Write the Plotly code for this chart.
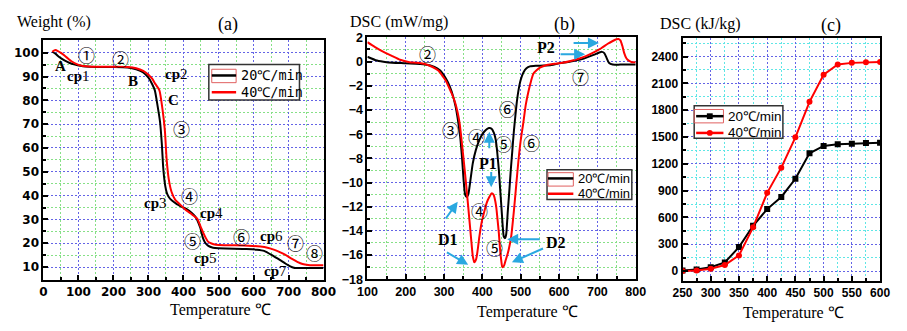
import plotly.graph_objects as go

# ---------------- data ----------------
# (a) TGA, weight %
tga20_x = [25, 35, 45, 60, 75, 90, 105, 120, 150, 200, 240, 265, 285, 300, 310, 318, 326, 333, 338, 342, 346, 350, 354, 360, 368, 380, 395, 410, 423, 432, 438, 443, 448, 455, 462, 470, 480, 490, 520, 580, 610, 630, 655, 675, 692, 705, 715, 720, 760, 800]
tga20_y = [100.4, 99.5, 98.2, 96.8, 95.7, 95.0, 94.5, 94.2, 94.0, 94.0, 93.8, 93.0, 91.7, 89.5, 87.0, 84.3, 77.7, 71, 62, 52, 46, 42.5, 40.5, 39, 37.8, 36.5, 35.3, 34.2, 32.8, 31.5, 30.2, 28.5, 26.5, 22.5, 20.2, 19.0, 18.3, 18.0, 17.8, 17.6, 17.3, 16.8, 14.8, 13.0, 11.4, 10.3, 9.7, 9.6, 9.6, 9.6]
tga40_x = [25, 30, 35, 40, 50, 60, 70, 80, 95, 110, 130, 150, 200, 240, 265, 285, 300, 310, 320, 331, 340, 347, 352, 358, 366, 377, 390, 405, 420, 432, 440, 446, 451, 456, 463, 470, 480, 493, 520, 585, 620, 640, 660, 675, 690, 710, 725, 740, 756, 770, 800]
tga40_y = [100.4, 100.9, 101.1, 100.8, 99.9, 98.8, 97.6, 96.4, 95.2, 94.5, 94.2, 94.1, 94.1, 94.0, 93.5, 92.4, 90.8, 89.2, 86.8, 84.3, 76.3, 67, 55, 46.8, 41.5, 38.1, 36.3, 34.2, 32.6, 31.2, 30.2, 28.1, 26.2, 24.6, 22.4, 20.7, 19.9, 19.4, 19.2, 19.0, 18.6, 18.1, 17.2, 16.3, 15.2, 13.4, 12.2, 11.3, 10.9, 10.8, 10.8]

# (b) DSC, mW/mg
dsc20_x = [100, 125, 150, 200, 250, 275, 290, 300, 310, 320, 330, 336, 342, 347, 351, 355, 359, 363, 368, 375, 383, 392, 400, 409, 417, 424, 430, 435, 439, 443, 446, 450, 453, 456, 459, 462, 466, 470, 474, 478, 482, 486, 490, 494, 500, 507, 515, 524, 540, 560, 580, 600, 630, 660, 690, 705, 712, 718, 724, 730, 740, 760, 800]
dsc20_y = [0.4, 0.08, -0.05, -0.15, -0.25, -0.45, -0.75, -1.15, -1.7, -2.5, -3.7, -4.8, -6.2, -8.0, -9.8, -11.0, -11.2, -11.0, -10.0, -8.4, -7.3, -6.5, -6.0, -5.65, -5.5, -5.55, -5.9, -6.5, -7.6, -9.0, -10.4, -12.2, -13.6, -14.5, -14.6, -14.3, -12.5, -10.8, -9.0, -7.4, -5.8, -4.5, -3.3, -2.4, -1.5, -0.9, -0.55, -0.4, -0.35, -0.33, -0.28, -0.15, 0.0, 0.2, 0.55, 0.75, 0.8, 0.7, 0.3, -0.1, -0.25, -0.25, -0.25]
dsc40_x = [100, 120, 142, 165, 185, 210, 227, 250, 270, 285, 295, 305, 315, 322, 329, 336, 341, 346, 352, 358, 363, 367, 371, 375, 379, 384, 388, 392, 398, 405, 411, 418, 424, 429, 432, 436, 439, 443, 446, 449, 452, 456, 460, 465, 469, 475, 482, 488, 494, 500, 507, 513, 520, 527, 533, 542, 550, 562, 575, 590, 609, 630, 651, 670, 693, 710, 727, 740, 750, 755, 760, 765, 770, 776, 783, 790, 800]
dsc40_y = [1.6, 1.2, 0.8, 0.45, 0.15, -0.05, -0.1, -0.2, -0.45, -0.75, -1.15, -1.6, -2.3, -2.8, -3.4, -4.3, -5.2, -6.6, -8.4, -10.3, -12.0, -13.4, -14.8, -16.1, -16.6, -16.3, -15.5, -14.5, -13.3, -12.4, -11.7, -11.2, -10.9, -11.0, -11.3, -12.0, -12.9, -14.2, -15.5, -16.4, -17.0, -16.9, -16.5, -16.0, -15.5, -14.5, -12.4, -10.3, -8.2, -6.5, -5.0, -3.6, -2.5, -1.6, -1.0, -0.7, -0.5, -0.35, -0.25, -0.18, -0.1, 0.05, 0.23, 0.45, 0.8, 1.1, 1.47, 1.7, 1.85, 1.87, 1.75, 1.3, 0.7, 0.25, 0.05, -0.05, -0.05]

# (c) cumulative DSC, kJ/kg
cum_x = [250, 275, 300, 325, 350, 375, 400, 425, 450, 475, 500, 525, 550, 575, 600]
cum20_y = [7, 18, 43, 96, 268, 507, 693, 829, 1032, 1318, 1400, 1418, 1425, 1432, 1436]
cum40_y = [0, 7, 25, 68, 175, 489, 875, 1157, 1496, 1893, 2196, 2311, 2329, 2336, 2339]

series_names = ["20℃/min", "40℃/min"]

# ---------------- style ----------------
W, H = 907, 331
SERIF = "Liberation Serif"
SANS = "Liberation Sans"
WIDE = "DejaVu Sans"
MONO = "DejaVu Sans Mono"
CIRC = "Noto Sans CJK SC"
BLUE_GRID = "#6464e6"
GREEN_GRID = "#86e086"
CYAN_GRID = "#5fe6e6"
ARROW = "#2aa8e0"


def px(x):
    return x / W


def py(y):
    return 1 - y / H


fig = go.Figure()

fig.add_trace(go.Scatter(x=tga20_x, y=tga20_y, mode="lines", name=series_names[0],
                         line=dict(color="black", width=2, shape="spline", smoothing=0.6),
                         xaxis="x", yaxis="y"))
fig.add_trace(go.Scatter(x=tga40_x, y=tga40_y, mode="lines", name=series_names[1],
                         line=dict(color="red", width=2, shape="spline", smoothing=0.6),
                         xaxis="x", yaxis="y"))
fig.add_trace(go.Scatter(x=dsc20_x, y=dsc20_y, mode="lines", name=series_names[0],
                         line=dict(color="black", width=2, shape="spline", smoothing=0.6),
                         xaxis="x2", yaxis="y2"))
fig.add_trace(go.Scatter(x=dsc40_x, y=dsc40_y, mode="lines", name=series_names[1],
                         line=dict(color="red", width=2, shape="spline", smoothing=0.6),
                         xaxis="x2", yaxis="y2"))
fig.add_trace(go.Scatter(x=cum_x, y=cum20_y, mode="lines+markers", name=series_names[0],
                         line=dict(color="black", width=2),
                         marker=dict(symbol="square", size=6, color="black"),
                         xaxis="x3", yaxis="y3"))
fig.add_trace(go.Scatter(x=cum_x, y=cum40_y, mode="lines+markers", name=series_names[1],
                         line=dict(color="red", width=2),
                         marker=dict(symbol="circle", size=6, color="red"),
                         xaxis="x3", yaxis="y3"))


def axis(domain, rng, dtick, mdtick, tfam, tsize, major_col, minor_col, anchor):
    return dict(
        domain=domain, range=rng, dtick=dtick, tick0=0,
        showline=True, linewidth=2, linecolor="black", mirror=True,
        ticks="inside", ticklen=5, tickwidth=1.5, tickcolor="black",
        showgrid=True, gridcolor=major_col, griddash="2px,2px", gridwidth=1,
        zeroline=False, anchor=anchor,
        tickfont=dict(family=tfam, size=tsize, color="black", weight="bold"),
        minor=dict(dtick=mdtick, tick0=0, ticks="inside", ticklen=3, tickcolor="black",
                   showgrid=True, gridcolor=minor_col, griddash="2px,2px", gridwidth=1),
    )


fig.update_layout(
    width=W, height=H, margin=dict(l=0, r=0, t=0, b=0),
    paper_bgcolor="white", plot_bgcolor="white", showlegend=False,
    xaxis=axis([px(34.3), px(321.7)], [0, 800], 100, 50, WIDE, 12, BLUE_GRID, GREEN_GRID, "y"),
    yaxis=axis([py(285), py(34.3)], [4.6, 105.4], 10, 5, WIDE, 12, BLUE_GRID, GREEN_GRID, "x"),
    xaxis2=axis([px(366.7), px(642)], [100, 800], 100, 50, SANS, 12.5, BLUE_GRID, GREEN_GRID, "y2"),
    yaxis2=axis([py(284.3), py(31.7)], [-18, 2], 2, 1, SANS, 12.5, BLUE_GRID, GREEN_GRID, "x2"),
    xaxis3=axis([px(690), px(892.7)], [250, 600], 50, 25, SANS, 12, BLUE_GRID, CYAN_GRID, "y3"),
    yaxis3=axis([py(285.7), py(32.3)], [-107, 2608], 300, 150, SANS, 12, BLUE_GRID, CYAN_GRID, "x3"),
)

ann = []


def txt(x, y, s, xr, yr, size=15, family=SERIF, xanchor="center", yanchor="middle", **kw):
    ann.append(dict(x=x, y=y, xref=xr, yref=yr, text=s, showarrow=False,
                    xanchor=xanchor, yanchor=yanchor,
                    font=dict(family=family, size=size, color="black"), **kw))


# ---- hand-drawn legend keys (box, red frame artefact, line samples, labels) ----
shapes = []


def prect(x0, y0, x1, y1, fill, lc, lw):
    shapes.append(dict(type="rect", xref="paper", yref="paper", x0=px(x0), x1=px(x1),
                       y0=py(y1), y1=py(y0), fillcolor=fill,
                       line=dict(color=lc, width=lw), layer="above"))


def pline(x0, x1, y, color):
    shapes.append(dict(type="line", xref="paper", yref="paper", x0=px(x0), x1=px(x1),
                       y0=py(y), y1=py(y), line=dict(color=color, width=2.5), layer="above"))


legends = [
    dict(box=(204, 60, 297, 97), frame=(207, 65, 232, 79), sx=(207, 232), rows=(71.5, 89),
         tx=235, font=(MONO, 13.5), marks=None),
    dict(box=(551, 170, 638, 201), frame=(552, 173, 578, 187), sx=(552, 578), rows=(179, 195),
         tx=581, font=(SANS, 13), marks=None),
    dict(box=(702, 103, 793, 137), frame=(702, 107, 732, 121), sx=(704, 732), rows=(114, 131.5),
         tx=735, font=(SANS, 13.5), marks=("square", "circle")),
]
for lg in legends:
    prect(*lg["box"], "white", "#333", 1.5)
    prect(*lg["frame"], "rgba(0,0,0,0)", "#e06060", 1)
    for yrow, col in zip(lg["rows"], ["black", "red"]):
        pline(lg["sx"][0], lg["sx"][1], yrow, col)
    if lg["marks"]:
        cx = (lg["sx"][0] + lg["sx"][1]) / 2
        y0 = lg["rows"][0]
        shapes.append(dict(type="rect", xref="paper", yref="paper",
                           x0=px(cx - 3), x1=px(cx + 3), y0=py(y0 + 3), y1=py(y0 - 3),
                           fillcolor="black", line=dict(width=0), layer="above"))
        y1 = lg["rows"][1]
        shapes.append(dict(type="circle", xref="paper", yref="paper",
                           x0=px(cx - 3), x1=px(cx + 3), y0=py(y1 + 3), y1=py(y1 - 3),
                           fillcolor="red", line=dict(width=0), layer="above"))
    for yrow, name in zip(lg["rows"], series_names):
        txt(px(lg["tx"]), py(yrow), name, "paper", "paper", lg["font"][1], lg["font"][0],
            xanchor="left")

fig.update_layout(shapes=shapes)

# titles
txt(px(5), py(15.5), "Weight (%)", "paper", "paper", 16, xanchor="left")
txt(px(224), py(18), "(a)", "paper", "paper", 18)
txt(px(347), py(15.5), "DSC (mW/mg)", "paper", "paper", 16, xanchor="left")
txt(px(569), py(18), "(b)", "paper", "paper", 18)
txt(px(665), py(18), "DSC (kJ/kg)", "paper", "paper", 16, xanchor="left")
txt(px(842.5), py(19), "(c)", "paper", "paper", 18)
txt(px(216), py(316.5), "Temperature ℃", "paper", "paper", 16)
txt(px(531), py(318), "Temperature ℃", "paper", "paper", 16)
txt(px(804), py(319), "Temperature ℃", "paper", "paper", 16)

# panel (a) labels
for (x, y, s) in [(48, 94.4, "<b>A</b>"), (257, 88, "<b>B</b>"), (372, 80.3, "<b>C</b>"),
                  (99, 90.4, "<b>cp</b>1"), (381, 91, "<b>cp</b>2"), (321, 36.8, "<b>cp</b>3"),
                  (479, 32.8, "<b>cp</b>4"), (463, 13.9, "<b>cp</b>5"), (650, 23, "<b>cp</b>6"),
                  (664, 8.3, "<b>cp</b>7")]:
    txt(x, y, s, "x", "y", 15)
for (x, y, s) in [(122, 99.4, "①"), (219.5, 97.7, "②"), (395.5, 68.3, "③"), (417, 40.1, "④"),
                  (427, 21.0, "⑤"), (567, 23, "⑥"), (719, 20.3, "⑦"), (775, 16, "⑧")]:
    txt(x, y, s, "x", "y", 17, CIRC)

# panel (b) labels
for (x, y, s) in [(257, 0.68, "②"), (316, -5.65, "③"), (384, -6.2, "④"), (454, -6.8, "⑤"),
                  (465, -3.9, "⑥"), (528, -6.7, "⑥"), (393, -12.3, "④"), (432, -15.4, "⑤"),
                  (655.5, -1.2, "⑦")]:
    txt(x, y, s, "x2", "y2", 17, CIRC)
for (x, y, s) in [(414, -8.4, "<b>P1</b>"), (566, 1.13, "<b>P2</b>"),
                  (310, -14.7, "<b>D1</b>"), (592, -15.0, "<b>D2</b>")]:
    txt(x, y, s, "x2", "y2", 16)

# arrows in panel (b): (tail x, tail y, head x, head y)
arrows = [(418, -7.3, 418, -5.8), (423, -9.0, 423, -10.4),
          (301.7, -13.1, 335.6, -11.6), (303.5, -15.7, 363, -16.8),
          (553.7, -14.7, 464.6, -14.7), (562, -15.4, 477, -16.6),
          (634, 1.53, 704, 1.53), (600, 0.6, 668, 0.6)]
for (tx, ty, hx, hy) in arrows:
    ann.append(dict(x=hx, y=hy, ax=tx, ay=ty, xref="x2", yref="y2", axref="x2", ayref="y2",
                    showarrow=True, arrowhead=2, arrowsize=1.1, arrowwidth=2,
                    arrowcolor=ARROW, text=""))

fig.update_layout(annotations=ann)

fig.write_html("out.html")
